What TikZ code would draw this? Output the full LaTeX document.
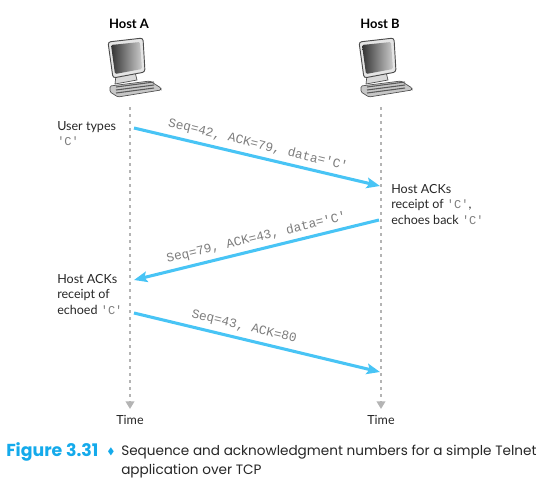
\documentclass[tikz,border=0pt]{standalone}
\usepackage{amssymb}
\usepackage{fontspec}
\setmainfont{Lato}
\setmonofont{Liberation Mono}
\newfontfamily\capfont{Poppins}
\usetikzlibrary{arrows,arrows.meta,positioning,shadings}
\definecolor{msgblue}{RGB}{72,196,245}
\definecolor{capblue}{RGB}{20,170,235}
\definecolor{lifegray}{RGB}{180,180,180}
\definecolor{msggray}{RGB}{125,125,125}
\newcommand{\qc}[1]{{\ttfamily\color{msggray}\fontsize{9}{10}\selectfont #1}}
\tikzset{
	pics/hostpc/.style={code={
		% keyboard
		\draw [black!70,fill=black!22,line width=.5pt,rounded corners=1pt] (-20,56) -- (20,51) -- (31,58) -- (31,60) -- (-12,67) -- (-20,62) -- cycle;
		\foreach \k in {56,59,62}
			\draw [black!65,line width=.8pt] (-14,\k+1) -- (24,\k-4);
		% stand
		\draw [black!70,fill=black!15,line width=.5pt] (-14,45) -- (5,42) -- (7,50) -- (-15,54) -- cycle;
		% screen
		\draw [black!70,fill=black!10,line width=.7pt,rounded corners=2pt] (-22,12) -- (13,8) -- (15,42) -- (-17,48) -- cycle;
		\shade [left color=black!80,right color=black!20,rounded corners=1pt] (-19,15) -- (10,12) -- (12,39) -- (-15,44) -- cycle;
	}}
}
\begin{document}
\begin{tikzpicture}
			[x=.75pt,y=-.75pt,font=\fontsize{9.4}{11.6}\selectfont,
			head/.style={font=\fontsize{9.7}{11}\selectfont\bfseries,inner sep=0pt},
			label/.style={align=left,anchor=north west,inner sep=0pt,text=black!85},
			timetext/.style={inner sep=0pt,text=black!85},
			msgtext/.style={font=\ttfamily\fontsize{9.6}{10}\selectfont,text=msggray,inner sep=0pt},
			life/.style={lifegray,line width=1.9pt,dash pattern=on 1.9pt off 3.35pt,-{Triangle[length=5.8pt,width=6.5pt,fill=lifegray]}},
			arc/.style={msgblue,line width=2.3pt,-{Stealth[length=10pt,width=8pt,inset=2pt]}}]
			\useasboundingbox (0,0) rectangle (550,497);
			
			\node (hosta) [head] at (129,24) {Host A};
			\node (hostb) [head] at (380,24) {Host B};
			\pic at (130,30) {hostpc};
			\pic at (381,30) {hostpc};
			
			\coordinate (atop) at (130,107);
			\coordinate (abot) at (130,409);
			\coordinate (btop) at (381,107);
			\coordinate (bbot) at (381,409);
			\draw [life] (atop) -- (abot);
			\draw [life] (btop) -- (bbot);
			
			\node (timea) [timetext] at (130,420) {Time};
			\node (timeb) [timetext] at (381,420) {Time};
			
			\coordinate (a1) at (134,128);
			\coordinate (b1) at (380,186);
			\coordinate (b2) at (379,220);
			\coordinate (a2) at (134,280);
			\coordinate (a3) at (134,313);
			\coordinate (b3) at (380,372);
			\draw [arc] (a1) -- (b1);
			\draw [arc] (b2) -- (a2);
			\draw [arc] (a3) -- (b3);
			
			\node (msg1) [msgtext,rotate=-13.8] at (258,145) {Seq=42, ACK=79, data='C'};
			\node (msg2) [msgtext,rotate=13.5] at (256.5,238) {Seq=79, ACK=43, data='C'};
			\node (msg3) [msgtext,rotate=-13.5] at (244,327) {Seq=43, ACK=80};
			
			\node (typed) [label] at (57,121) {User types\\\qc{'C'}};
			\node (echo) [label] at (391,184) {Host ACKs\\receipt of \qc{'C'},\\echoes back \qc{'C'}};
			\node (ack) [label] at (57,274) {Host ACKs\\receipt of\\echoed \qc{'C'}};
			
			\node (fignum) [inner sep=0pt,anchor=west,text=capblue,font=\capfont\fontsize{13}{14}\selectfont\bfseries] at (6,452) {Figure 3.31};
			\node (bullet) [inner sep=0pt,text=capblue,font=\fontsize{7}{8}\selectfont] at (111,452) {$\blacklozenge$};
			\node (caption) [inner sep=0pt,anchor=north west,align=left,text=black!85,font=\capfont\fontsize{10.2}{14.5}\selectfont] at (121,445) {Sequence and acknowledgment numbers for a simple Telnet\\application over TCP};
			\end{tikzpicture}
\end{document}
